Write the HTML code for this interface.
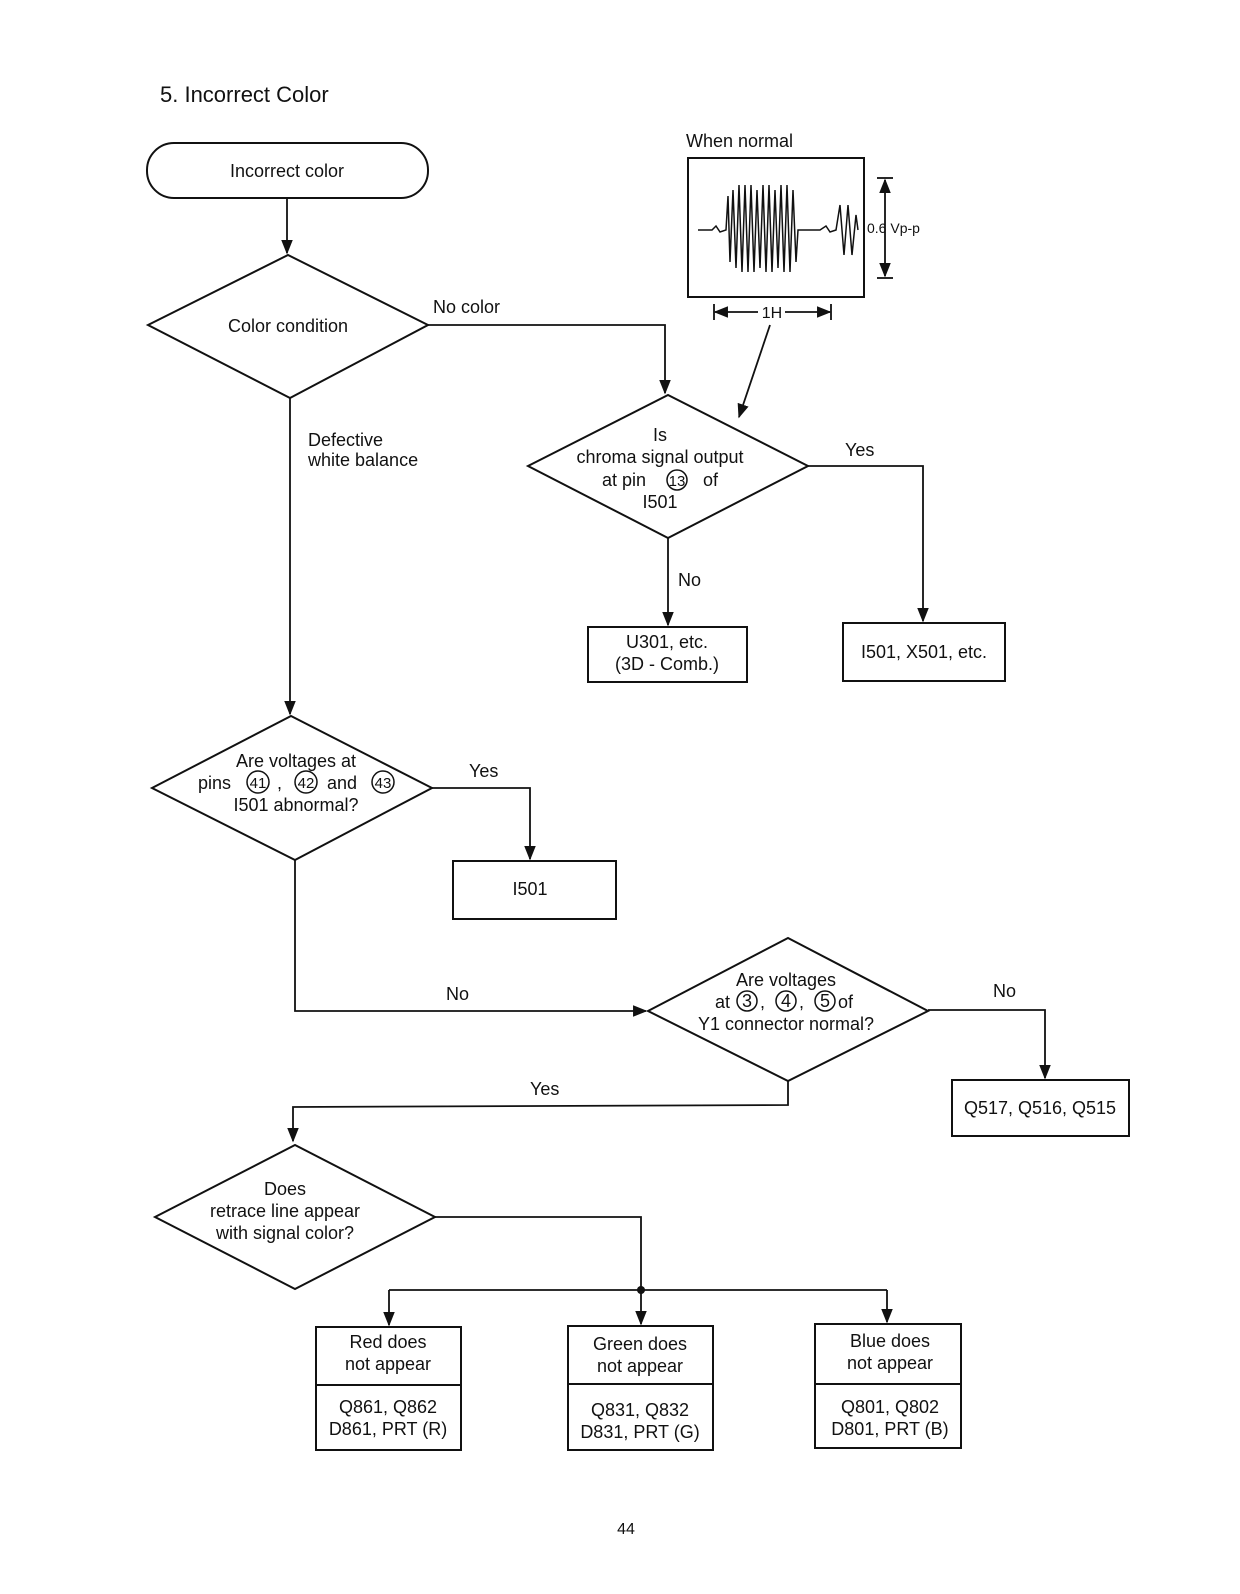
<!DOCTYPE html>
<html><head><meta charset="utf-8"><style>
html,body{margin:0;padding:0;background:#fff}
svg{display:block}
text{font-family:"Liberation Sans",Arial,sans-serif;fill:#111}
</style></head><body>
<svg width="1240" height="1594" viewBox="0 0 1240 1594" xmlns="http://www.w3.org/2000/svg">
<defs>
<marker id="a" viewBox="0 0 10 10" refX="9" refY="5" markerWidth="8" markerHeight="8" orient="auto-start-reverse"><path d="M0,1 L10,5 L0,9 z" fill="#111"/></marker>
</defs>
<g stroke="#111" stroke-width="2" fill="none">
<rect x="147" y="143" width="281" height="55" rx="27"/>
<polygon points="148,325 288,255 428,325 290,398"/>
<polygon points="528,466 668,395 808,466 668,538"/>
<polygon points="152,788 291,716 432,788 295,860"/>
<polygon points="648,1011 788,938 928,1011 788,1081"/>
<polygon points="155,1217 295,1145 435,1217 295,1289"/>
<rect x="688" y="158" width="176" height="139"/>
<rect x="588" y="627" width="159" height="55"/>
<rect x="843" y="623" width="162" height="58"/>
<rect x="453" y="861" width="163" height="58"/>
<rect x="952" y="1080" width="177" height="56"/>
<rect x="316" y="1327" width="145" height="123"/><line x1="316" y1="1385" x2="461" y2="1385"/>
<rect x="568" y="1326" width="145" height="124"/><line x1="568" y1="1384" x2="713" y2="1384"/>
<rect x="815" y="1324" width="146" height="124"/><line x1="815" y1="1384" x2="961" y2="1384"/>
</g>
<g stroke="#111" stroke-width="1.8" fill="none">
<line x1="287" y1="198" x2="287" y2="253" marker-end="url(#a)"/>
<polyline points="428,325 665,325 665,393" marker-end="url(#a)"/>
<line x1="770" y1="325" x2="739" y2="417" marker-end="url(#a)"/>
<polyline points="808,466 923,466 923,621" marker-end="url(#a)"/>
<line x1="668" y1="538" x2="668" y2="625" marker-end="url(#a)"/>
<line x1="290" y1="398" x2="290" y2="714" marker-end="url(#a)"/>
<polyline points="432,788 530,788 530,859" marker-end="url(#a)"/>
<polyline points="295,860 295,1011 646,1011" marker-end="url(#a)"/>
<polyline points="928,1010 1045,1010 1045,1078" marker-end="url(#a)"/>
<polyline points="788,1081 788,1105 293,1107 293,1141" marker-end="url(#a)"/>
<polyline points="435,1217 641,1217 641,1290"/>
<line x1="389" y1="1290" x2="887" y2="1290"/>
<line x1="389" y1="1290" x2="389" y2="1325" marker-end="url(#a)"/>
<line x1="641" y1="1290" x2="641" y2="1324" marker-end="url(#a)"/>
<line x1="887" y1="1290" x2="887" y2="1322" marker-end="url(#a)"/>
<line x1="885" y1="180" x2="885" y2="276" marker-start="url(#a)" marker-end="url(#a)"/>
<line x1="877" y1="178" x2="893" y2="178"/><line x1="877" y1="278" x2="893" y2="278"/>
<line x1="715" y1="312" x2="758" y2="312" marker-start="url(#a)"/>
<line x1="785" y1="312" x2="830" y2="312" marker-end="url(#a)"/>
<line x1="714" y1="304" x2="714" y2="320"/><line x1="831" y1="304" x2="831" y2="320"/>
<path d="M698,230 L712,230 L716,226 L720,232 L726,230 L728,196 L730,262 L733,190 L736,268 L739,185 L742,272 L745,185 L748,272 L751,185 L754,272 L757,190 L760,268 L763,185 L766,272 L769,185 L772,272 L775,190 L778,268 L781,185 L784,272 L787,185 L790,272 L793,190 L796,262 L798,230 L820,230 L826,226 L830,232 L836,230 L840,205 L844,255 L848,205 L852,255 L856,215 L858,230" stroke-width="1.5"/>
</g>
<circle cx="641" cy="1290" r="4" fill="#111"/>
<g font-size="18">
<text x="160" y="102" font-size="22">5.  Incorrect Color</text>
<text x="287" y="177" text-anchor="middle">Incorrect color</text>
<text x="288" y="332" text-anchor="middle">Color condition</text>
<text x="433" y="313">No color</text>
<text x="686" y="147">When normal</text>
<text x="867" y="233" font-size="14">0.6 Vp-p</text>
<text x="772" y="318" text-anchor="middle" font-size="16">1H</text>
<text x="660" y="441" text-anchor="middle">Is</text>
<text x="660" y="463" text-anchor="middle">chroma signal output</text>
<text x="602" y="486">at pin</text><circle cx="677" cy="480" r="10" fill="none" stroke="#111" stroke-width="1.5"/><text x="677" y="486" text-anchor="middle" font-size="15">13</text><text x="703" y="486">of</text>
<text x="660" y="508" text-anchor="middle">I501</text>
<text x="845" y="456">Yes</text>
<text x="678" y="586">No</text>
<text x="667" y="648" text-anchor="middle">U301, etc.</text>
<text x="667" y="670" text-anchor="middle">(3D - Comb.)</text>
<text x="924" y="658" text-anchor="middle">I501, X501, etc.</text>
<text x="308" y="446">Defective</text>
<text x="308" y="466">white balance</text>
<text x="296" y="767" text-anchor="middle">Are voltages at</text>
<text x="198" y="789">pins</text>
<circle cx="258" cy="782" r="11" fill="none" stroke="#111" stroke-width="1.5"/><text x="258" y="788" text-anchor="middle" font-size="15">41</text>
<text x="277" y="789">,</text>
<circle cx="306" cy="782" r="11" fill="none" stroke="#111" stroke-width="1.5"/><text x="306" y="788" text-anchor="middle" font-size="15">42</text>
<text x="327" y="789">and</text>
<circle cx="383" cy="782" r="11" fill="none" stroke="#111" stroke-width="1.5"/><text x="383" y="788" text-anchor="middle" font-size="15">43</text>
<text x="296" y="811" text-anchor="middle">I501 abnormal?</text>
<text x="469" y="777">Yes</text>
<text x="530" y="895" text-anchor="middle">I501</text>
<text x="446" y="1000">No</text>
<text x="786" y="986" text-anchor="middle">Are voltages</text>
<text x="715" y="1008">at</text>
<circle cx="747" cy="1001" r="10" fill="none" stroke="#111" stroke-width="1.5"/><text x="747" y="1007" text-anchor="middle">3</text>
<text x="760" y="1008">,</text>
<circle cx="786" cy="1001" r="10" fill="none" stroke="#111" stroke-width="1.5"/><text x="786" y="1007" text-anchor="middle">4</text>
<text x="799" y="1008">,</text>
<circle cx="825" cy="1001" r="10" fill="none" stroke="#111" stroke-width="1.5"/><text x="825" y="1007" text-anchor="middle">5</text>
<text x="838" y="1008">of</text>
<text x="786" y="1030" text-anchor="middle">Y1 connector normal?</text>
<text x="993" y="997">No</text>
<text x="1040" y="1114" text-anchor="middle">Q517, Q516, Q515</text>
<text x="530" y="1095">Yes</text>
<text x="285" y="1195" text-anchor="middle">Does</text>
<text x="285" y="1217" text-anchor="middle">retrace line appear</text>
<text x="285" y="1239" text-anchor="middle">with signal color?</text>
<text x="388" y="1348" text-anchor="middle">Red does</text>
<text x="388" y="1370" text-anchor="middle">not appear</text>
<text x="388" y="1413" text-anchor="middle">Q861, Q862</text>
<text x="388" y="1435" text-anchor="middle">D861, PRT (R)</text>
<text x="640" y="1350" text-anchor="middle">Green does</text>
<text x="640" y="1372" text-anchor="middle">not appear</text>
<text x="640" y="1416" text-anchor="middle">Q831, Q832</text>
<text x="640" y="1438" text-anchor="middle">D831, PRT (G)</text>
<text x="890" y="1347" text-anchor="middle">Blue does</text>
<text x="890" y="1369" text-anchor="middle">not appear</text>
<text x="890" y="1413" text-anchor="middle">Q801, Q802</text>
<text x="890" y="1435" text-anchor="middle">D801, PRT (B)</text>
<text x="626" y="1534" text-anchor="middle" font-size="16">44</text>
</g>
</svg>
</body></html>
